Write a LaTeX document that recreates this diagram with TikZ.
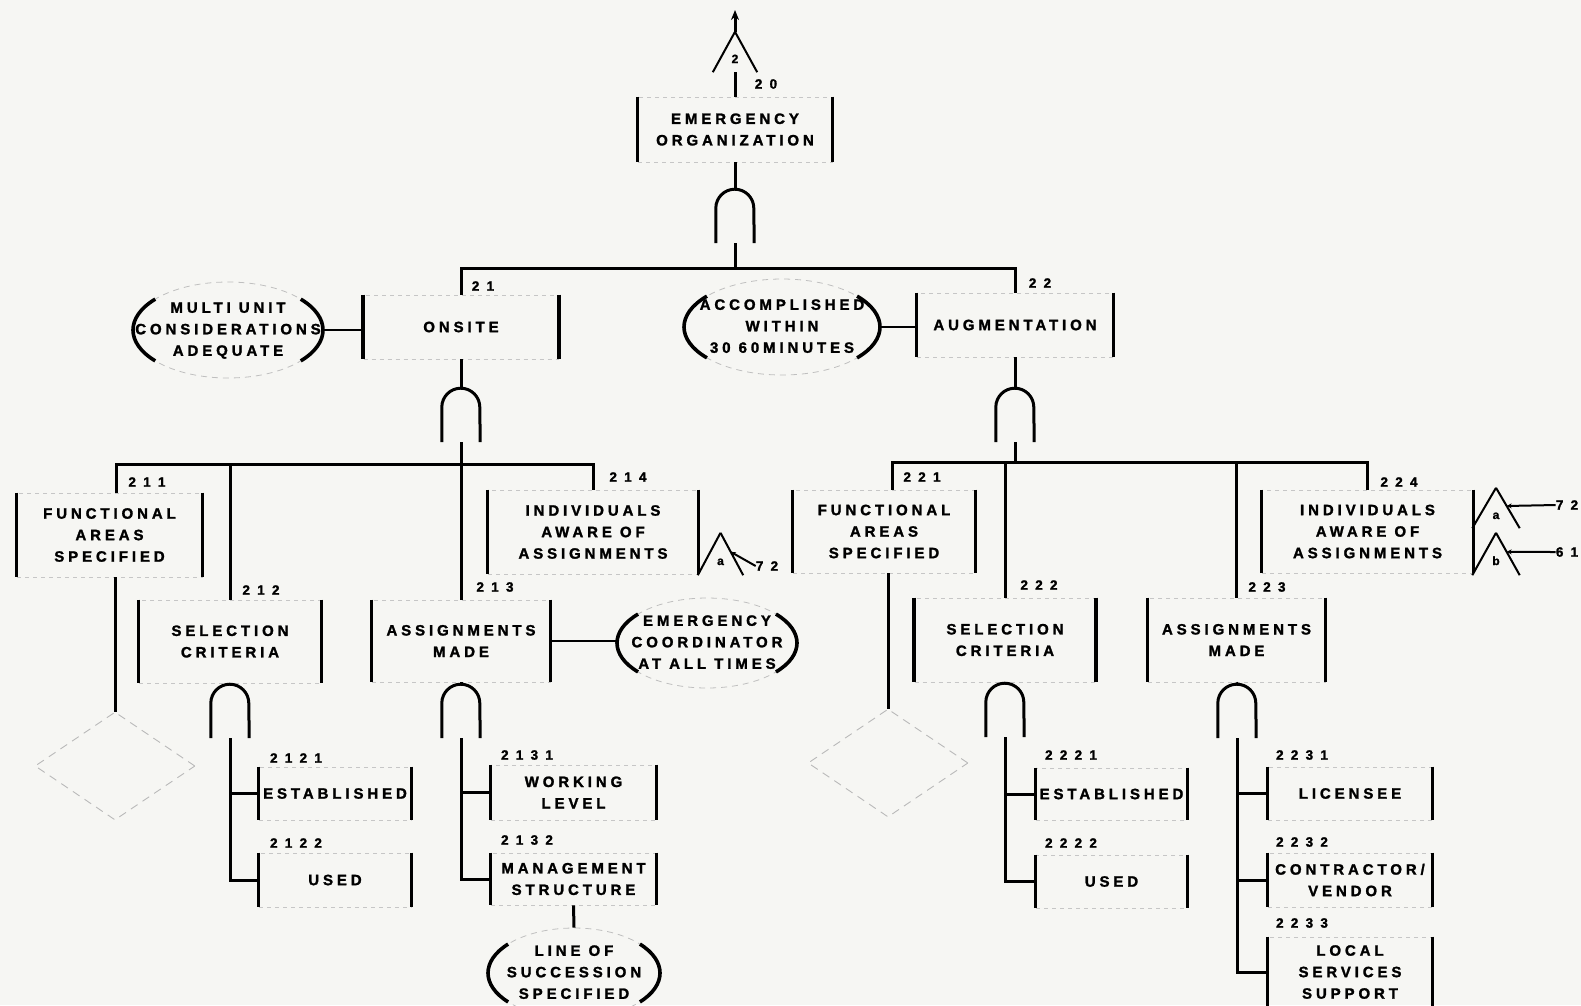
\documentclass[tikz,border=0pt]{standalone}
\usepackage{fontspec}
\setmainfont{Liberation Sans}[UprightFont={* Bold},BoldFont={* Bold},LetterSpace=26,FakeBold=1.6]
\usetikzlibrary{shapes.geometric,arrows.meta,calc}
\definecolor{paper}{RGB}{246,246,243}
\newcommand\boxfont{\fontsize{15}{21.5}\selectfont}
\newcommand\elltext[1]{\smash{\makebox[0pt]{\raisebox{-3.6pt}{\begin{tabular}{@{}c@{}}#1\end{tabular}}}}}
\newcommand\sidearcs[3]{%
  \draw[rim] (#1.center) ++(140:#2pt and #3pt) arc[start angle=140,end angle=220,x radius=#2pt,y radius=#3pt];
  \draw[rim] (#1.center) ++(-40:#2pt and #3pt) arc[start angle=-40,end angle=40,x radius=#2pt,y radius=#3pt];}
\begin{document}
\begin{tikzpicture}[x=1pt,y=-1pt,
  rim/.style={draw=black,solid,line width=3.6pt},
  evt/.style={rectangle,draw=gray!45,dash pattern=on 4pt off 4pt,line width=0.8pt,inner sep=1pt,align=center,font=\boxfont,
    append after command={(\tikzlastnode.north west) edge[rim] (\tikzlastnode.south west)
      (\tikzlastnode.north east) edge[rim] (\tikzlastnode.south east)}},
  arch/.style={draw=black,line width=3pt,to path={-- ++(0pt,35pt) arc[start angle=180,end angle=0,radius=19pt] -- (\tikztotarget)}},
  andg/.style={minimum width=38pt,minimum height=54pt,inner sep=0pt,
    append after command={(\tikzlastnode.south west) edge[arch] (\tikzlastnode.south east)}},
  tri/.style={draw=black,line width=2pt},
  xfer/.style={minimum width=44pt,minimum height=40pt,inner sep=0pt,text height=22pt,text depth=0pt,font=\fontsize{12}{12}\selectfont,
    append after command={(\tikzlastnode.south west) edge[tri] (\tikzlastnode.north)
      (\tikzlastnode.north) edge[tri] (\tikzlastnode.south east)}},
  cond/.style={ellipse,draw=gray!50,dash pattern=on 6pt off 5pt,line width=0.8pt,inner sep=0pt,font=\boxfont},
  undev/.style={diamond,draw=gray!55,dash pattern=on 8pt off 6pt,line width=0.9pt,inner sep=0pt,minimum width=160pt,minimum height=108pt},
  num/.style={inner sep=0pt,font=\fontsize{13.5}{14}\selectfont},
  conn/.style={draw=black,line width=3pt},
  link/.style={draw=black,line width=2pt}]
  \useasboundingbox (0,0) rectangle (1581,1005);
  \clip (0,0) rectangle (1581,1005);
  \fill[paper] (0,0) rectangle (1581,1005);

  \node[evt,minimum width=194pt,minimum height=65pt] (b20) at (735,129.5) {EMERGENCY\\ORGANIZATION};
  \node[xfer] (t0) at (735,52) {2};
  \coordinate (up) at (735,10);
  \node[num] (n20) at (766,84) {2 0};
  \node[andg] (g0) at (735,216) {};
  \coordinate (j0) at (735,268);

  \node[evt,minimum width=195pt,minimum height=64pt] (onsite) at (461,327) {ONSITE};
  \node[num] (n21) at (483,286) {2 1};
  \node[cond,minimum width=190pt,minimum height=96pt] (emulti) at (228,330) {\elltext{MULTI UNIT\\CONSIDERATIONS\\ADEQUATE}};
  \node[evt,minimum width=196pt,minimum height=64pt] (aug) at (1015,325) {AUGMENTATION};
  \node[num] (n22) at (1040,283) {2 2};
  \node[cond,minimum width=196pt,minimum height=96pt] (eacc) at (782,327) {\elltext{ACCOMPLISHED\\WITHIN\\30 60MINUTES}};

  \node[andg] (g1) at (461,415) {};
  \coordinate (j1) at (461,464);
  \node[andg] (g2) at (1015,415) {};
  \coordinate (j2) at (1015,462);

  \node[evt,minimum width=185pt,minimum height=84pt] (b211) at (109.5,535) {FUNCTIONAL\\AREAS\\SPECIFIED};
  \node[num] (n211) at (147,482) {2 1 1};
  \node[undev] (d211) at (115,766) {};
  \node[evt,minimum width=182pt,minimum height=83pt] (b212) at (230,641.5) {SELECTION\\CRITERIA};
  \node[num] (n212) at (261,590) {2 1 2};
  \node[evt,minimum width=178pt,minimum height=82pt] (b213) at (461,641) {ASSIGNMENTS\\MADE};
  \node[num] (n213) at (495,587) {2 1 3};
  \node[evt,minimum width=210pt,minimum height=84pt] (b214) at (593,532) {INDIVIDUALS\\AWARE OF\\ASSIGNMENTS};
  \node[num] (n214) at (628,477) {2 1 4};
  \node[xfer,minimum width=45pt,minimum height=42pt] (t214) at (720.5,554) {a};
  \node[num] (n72a) at (767,566) {7 2};
  \node[cond,minimum width=180pt,minimum height=90pt] (ecoord) at (707,643) {\elltext{EMERGENCY\\COORDINATOR\\AT ALL TIMES}};

  \node[andg] (g3) at (230,711) {};
  \node[evt,minimum width=152pt,minimum height=53pt] (b2121) at (335,793.5) {ESTABLISHED};
  \node[num] (n2121) at (296,758) {2 1 2 1};
  \node[evt,minimum width=152pt,minimum height=54pt] (b2122) at (335,880) {USED};
  \node[num] (n2122) at (296,843) {2 1 2 2};
  \node[andg] (g4) at (461,711) {};
  \node[evt,minimum width=165pt,minimum height=55pt] (b2131) at (573.5,792.5) {WORKING\\LEVEL};
  \node[num] (n2131) at (527,755) {2 1 3 1};
  \node[evt,minimum width=165pt,minimum height=52pt] (b2132) at (573.5,879) {MANAGEMENT\\STRUCTURE};
  \node[num] (n2132) at (527,840) {2 1 3 2};
  \node[cond,minimum width=172pt,minimum height=90pt] (eline) at (574,973) {\elltext{LINE OF\\SUCCESSION\\SPECIFIED}};

  \node[evt,minimum width=182pt,minimum height=83pt] (b221) at (884,531.5) {FUNCTIONAL\\AREAS\\SPECIFIED};
  \node[num] (n221) at (922,477) {2 2 1};
  \node[undev] (d221) at (888,763) {};
  \node[evt,minimum width=181pt,minimum height=84pt] (b222) at (1005,640) {SELECTION\\CRITERIA};
  \node[num] (n222) at (1039,585) {2 2 2};
  \node[evt,minimum width=177pt,minimum height=84pt] (b223) at (1236.5,640) {ASSIGNMENTS\\MADE};
  \node[num] (n223) at (1267,587) {2 2 3};
  \node[evt,minimum width=211pt,minimum height=83pt] (b224) at (1367.5,531.5) {INDIVIDUALS\\AWARE OF\\ASSIGNMENTS};
  \node[num] (n224) at (1399,482) {2 2 4};
  \node[xfer,minimum width=47pt] (t224a) at (1496,508) {a};
  \node[xfer,minimum width=47pt,minimum height=42pt] (t224b) at (1496,554) {b};
  \node[num] (n72b) at (1567,505) {7 2};
  \node[num] (n61) at (1567,552) {6 1};

  \node[andg] (g5) at (1005,710) {};
  \node[evt,minimum width=151pt,minimum height=52pt] (b2221) at (1111.5,794) {ESTABLISHED};
  \node[num] (n2221) at (1071,755) {2 2 2 1};
  \node[evt,minimum width=151pt,minimum height=53pt] (b2222) at (1111.5,881.5) {USED};
  \node[num] (n2222) at (1071,843) {2 2 2 2};
  \node[andg] (g6) at (1237,711) {};
  \node[evt,minimum width=164pt,minimum height=53pt] (b2231) at (1350,793.5) {LICENSEE};
  \node[num] (n2231) at (1302,755) {2 2 3 1};
  \node[evt,minimum width=164pt,minimum height=54pt] (b2232) at (1350,880) {CONTRACTOR/\\VENDOR};
  \node[num] (n2232) at (1302,842) {2 2 3 2};
  \node[evt,minimum width=164pt,minimum height=70pt] (b2233) at (1350,972) {LOCAL\\SERVICES\\SUPPORT};
  \node[num] (n2233) at (1302,923) {2 2 3 3};

  \sidearcs{emulti}{95}{48}
  \sidearcs{eacc}{98}{48}
  \sidearcs{ecoord}{90}{45}
  \sidearcs{eline}{86}{45}

  \draw[conn,-{Stealth[length=10pt,width=8pt]}] (t0.north) -- (up);
  \draw[conn] (t0.south) -- (b20.north);
  \draw[conn] (b20.south) -- (g0.north);
  \draw[conn] (g0.south) -- (j0);
  \draw[conn] (onsite.north) |- (j0) -| (aug.north);
  \draw[link] (emulti.east) -- (emulti.east -| onsite.west);
  \draw[link] (eacc.east) -- (eacc.east -| aug.west);

  \draw[conn] (onsite.south) -- (g1.north);
  \draw[conn] (g1.south) -- (j1);
  \draw[conn] ([xshift=7pt]b211.north) |- (j1) -| (b214.north);
  \draw[conn] (j1) -- (b213.north);
  \draw[conn] (b212.north) -- (b212.north |- j1);
  \draw[conn] (d211.north |- b211.south) -- (d211.north);
  \draw[link] (b213.east) -- (b213.east -| ecoord.west);
  \draw[link,{Stealth[length=5pt,width=5pt]}-] ($(t214.north)!.45!(t214.south east)$) -- (n72a.west);
  \draw[conn] (b212.south) -- (g3.north);
  \draw[conn] (g3.south) |- (b2122.west);
  \draw[conn] (b2121.west) -- (b2121.west -| g3.south);
  \draw[conn] (b213.south) -- (g4.north);
  \draw[conn] (g4.south) |- (b2132.west);
  \draw[conn] (b2131.west) -- (b2131.west -| g4.south);
  \draw[conn] (b2132.south) -- (eline.north);

  \draw[conn] (aug.south) -- (g2.north);
  \draw[conn] (g2.south) -- (j2);
  \draw[conn] ([xshift=8pt]b221.north) |- (j2) -| (b224.north);
  \draw[conn] (b222.north) -- (b222.north |- j2);
  \draw[conn] (b223.north) -- (b223.north |- j2);
  \draw[conn] (d221.north |- b221.south) -- (d221.north);
  \draw[link,{Stealth[length=5pt,width=5pt]}-] ($(t224a.north)!.45!(t224a.south east)$) -- (n72b.west);
  \draw[link,{Stealth[length=5pt,width=5pt]}-] ($(t224b.north)!.45!(t224b.south east)$) -- (n61.west);
  \draw[conn] (b222.south) -- (g5.north);
  \draw[conn] (g5.south) |- (b2222.west);
  \draw[conn] (b2221.west) -- (b2221.west -| g5.south);
  \draw[conn] (b223.south) -- (g6.north);
  \draw[conn] (g6.south) |- (b2233.west);
  \draw[conn] (b2231.west) -- (b2231.west -| g6.south);
  \draw[conn] (b2232.west) -- (b2232.west -| g6.south);
\end{tikzpicture}
\end{document}
